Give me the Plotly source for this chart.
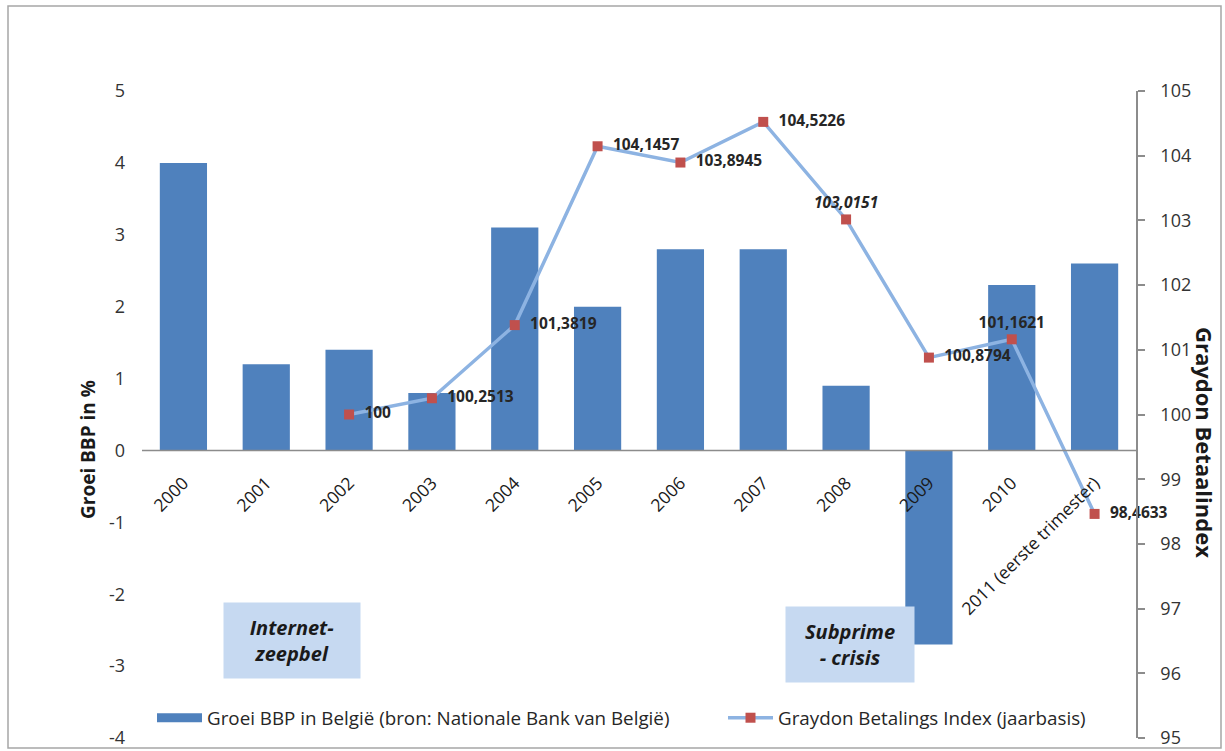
import plotly.graph_objects as go

# Categories and series
jaren = ["2000", "2001", "2002", "2003", "2004", "2005", "2006", "2007",
         "2008", "2009", "2010", "2011 (eerste trimester)"]
groei_bbp = [4.0, 1.2, 1.4, 0.8, 3.1, 2.0, 2.8, 2.8, 0.9, -2.7, 2.3, 2.6]
graydon_index = [None, None, 100, 100.2513, 101.3819, 104.1457, 103.8945,
                 104.5226, 103.0151, 100.8794, 101.1621, 98.4633]
label_posities = ["middle right", "middle right", "middle right", "middle right",
                  "middle right", "middle right", "middle right", "middle right",
                  "top center", "middle right", "top center", "middle right"]
cursief = {"2008"}

left_ticks = list(range(-4, 6))
right_ticks = list(range(95, 106))

FONT = "Open Sans"
BLAUW = "#4f81bd"
LIJN = "#8db3e2"
ROOD = "#c0504d"
TEKST = "#262626"
AS = "#8c8c8c"
NBSP = "\u00a0"

BAR_NAAM = "Groei BBP in België (bron: Nationale Bank van België)"
LIJN_NAAM = "Graydon Betalings Index (jaarbasis)"


def fmt(v):
    s = f"{v:.4f}".rstrip("0").rstrip(".")
    return s.replace(".", ",")


labels = []
for jaar, v, pos in zip(jaren, graydon_index, label_posities):
    if v is None:
        labels.append("")
        continue
    s = fmt(v)
    if jaar in cursief:
        s = f"<i>{s}</i>"
    if pos == "middle right":
        s = NBSP * 2 + s
    labels.append(s)

fig = go.Figure()

fig.add_trace(go.Bar(
    x=jaren, y=groei_bbp,
    name=BAR_NAAM,
    marker=dict(color=BLAUW, line=dict(width=0)),
    yaxis="y",
    showlegend=False,
))

# Legend entry for the bars, drawn as a wide flat swatch
fig.add_trace(go.Scatter(
    x=[None], y=[None],
    name=BAR_NAAM,
    mode="lines",
    line=dict(color=BLAUW, width=9),
    yaxis="y",
    legend="legend",
    hoverinfo="skip",
))

fig.add_trace(go.Scatter(
    x=jaren, y=graydon_index,
    name=LIJN_NAAM,
    mode="lines+markers+text",
    line=dict(color=LIJN, width=3.5),
    marker=dict(symbol="square", size=10, color=ROOD),
    text=labels,
    textposition=label_posities,
    textfont=dict(family=FONT, size=15.5, color=TEKST, weight="bold"),
    yaxis="y2",
    connectgaps=False,
    cliponaxis=False,
    legend="legend2",
))

L, R, T, B = 142, 89, 91, 13
W, H = 1225, 751
pw, ph = W - L - R, H - T - B


def px_x(x):
    return (x - L) / pw


def px_y(y):
    return (H - B - y) / ph


legend_common = dict(
    orientation="h", yanchor="middle", xanchor="left",
    font=dict(family=FONT, size=18.8, color=TEKST),
    bgcolor="rgba(0,0,0,0)",
)

fig.update_layout(
    width=W, height=H,
    margin=dict(l=L, r=R, t=T, b=B, autoexpand=False),
    paper_bgcolor="white", plot_bgcolor="white",
    font=dict(family=FONT, color=TEKST),
    bargap=0.43,
    showlegend=True,
    legend=dict(x=px_x(152), y=px_y(718), itemwidth=45, **legend_common),
    legend2=dict(x=px_x(723), y=px_y(718), itemwidth=45, **legend_common),
    xaxis=dict(
        type="category",
        range=[-0.5, len(jaren) - 0.5],
        showline=False,
        ticks="", tickangle=-45,
        tickfont=dict(family=FONT, size=17.5, color="#1a1a1a"),
        showgrid=False, zeroline=False,
        anchor="free",
        position=(0 - left_ticks[0]) / (left_ticks[-1] - left_ticks[0]),
        ticklabelstandoff=18,
        automargin=False,
    ),
    yaxis=dict(
        range=[left_ticks[0], left_ticks[-1]],
        tickvals=left_ticks,
        ticktext=[str(t) for t in left_ticks],
        showgrid=False, showline=False, zeroline=False,
        ticks="", ticklabelstandoff=16,
        tickfont=dict(family=FONT, size=18, color="#333333"),
        automargin=False,
    ),
    yaxis2=dict(
        range=[right_ticks[0], right_ticks[-1]],
        tickvals=right_ticks,
        overlaying="y", side="right",
        showgrid=False, zeroline=False,
        showline=True, linecolor=AS, linewidth=1.5,
        ticks="outside", ticklen=7, tickcolor=AS, tickwidth=1.5,
        ticklabelstandoff=12,
        tickfont=dict(family=FONT, size=18, color="#333333"),
        automargin=False,
    ),
)

# Horizontal category axis line at 0 %
fig.add_shape(
    type="line", xref="paper", yref="y",
    x0=0, x1=1, y0=0, y1=0,
    line=dict(color=AS, width=1.5),
    layer="above",
)

# Axis titles
fig.add_annotation(
    x=px_x(88), y=px_y(450), xref="paper", yref="paper",
    xanchor="center", yanchor="middle",
    text="<b>Groei BBP in %</b>", textangle=-90, showarrow=False,
    font=dict(family=FONT, size=19, color="#1a1a1a"),
)
fig.add_annotation(
    x=px_x(1205), y=px_y(442), xref="paper", yref="paper",
    xanchor="center", yanchor="middle",
    text="<b>Graydon Betaalindex</b>", textangle=90, showarrow=False,
    font=dict(family=FONT, size=22, color="#1a1a1a"),
)

# Crisis boxes
for tekst, cx, cy, bw in [("Internet-<br>zeepbel", 292, 640, 136),
                          ("Subprime<br>- crisis", 850, 644, 128)]:
    fig.add_annotation(
        x=px_x(cx), y=px_y(cy), xref="paper", yref="paper",
        xanchor="center", yanchor="middle",
        text=f"<b><i>{tekst}</i></b>", showarrow=False,
        width=bw, height=75, bgcolor="#c6d9f1", borderpad=0,
        font=dict(family=FONT, size=20, color="#1a1a1a"),
        align="center", valign="middle",
    )

# Outer chart border
fig.add_shape(
    type="rect", xref="paper", yref="paper",
    x0=px_x(8), x1=px_x(1221), y0=px_y(748), y1=px_y(6),
    line=dict(color="#a6a6a6", width=1.5), fillcolor="rgba(0,0,0,0)",
    layer="below",
)

fig.write_html("out.html")
